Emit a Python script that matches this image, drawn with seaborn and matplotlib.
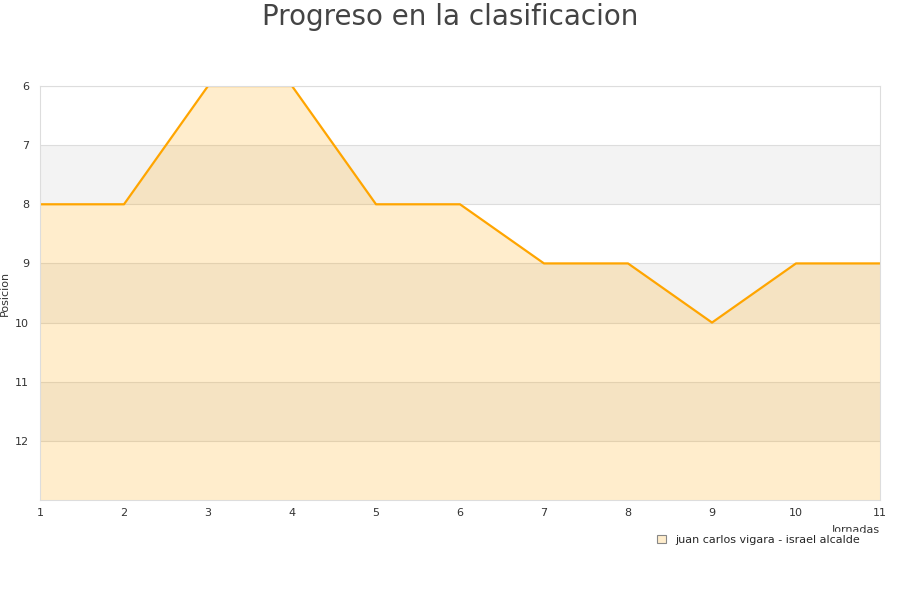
import matplotlib
matplotlib.use("Agg")
import matplotlib.pyplot as plt
import seaborn as sns
import pandas as pd
from matplotlib.patches import Patch

jornadas = [1, 2, 3, 4, 5, 6, 7, 8, 9, 10, 11]
posicion = [8, 8, 6, 6, 8, 8, 9, 9, 10, 9, 9]
serie = "juan carlos vigara - israel alcalde"
y_ticks = [6, 7, 8, 9, 10, 11, 12]

sns.set_theme(style="white")
plt.rcParams['font.family'] = ['DejaVu Sans']

df = pd.DataFrame({"Jornadas": jornadas, "Posicion": posicion})

fig = plt.figure(figsize=(9, 6), dpi=100)
ax = fig.add_axes([40/900, 100/600, 840/900, 414/600])

for lo in (7, 9, 11):
    ax.axhspan(lo, lo + 1, color="#f3f3f3", zorder=0, lw=0)
for t in y_ticks:
    ax.axhline(t, color="#dddddd", lw=0.8, zorder=0.5)

ax.fill_between(df["Jornadas"], df["Posicion"], 13, color="#FFA500", alpha=0.2, lw=0, zorder=1)
sns.lineplot(data=df, x="Jornadas", y="Posicion", ax=ax, color="#FFA500", lw=1.6, zorder=2)

ax.set_xlim(1, 11)
ax.set_ylim(13, 6)
ax.set_xticks(jornadas)
ax.set_yticks(y_ticks)
ax.tick_params(axis="both", labelsize=8, labelcolor="#333333", length=0)
ax.tick_params(axis="y", pad=8)
ax.tick_params(axis="x", pad=6)
for s in ax.spines.values():
    s.set_color("#dddddd")
    s.set_linewidth(0.8)

ax.set_ylabel("Posicion", fontsize=8, color="#333333")
ax.yaxis.set_label_coords(-30/840, 0.5)
ax.set_xlabel("Jornadas", fontsize=8, color="#333333")
ax.xaxis.set_label_coords(1.0, -0.06)
ax.xaxis.label.set_horizontalalignment("right")

fig.suptitle("Progreso en la clasificacion", fontsize=20, color="#444444", y=0.995)

handle = Patch(facecolor="#ffedcc", edgecolor="#888888", lw=0.8)
leg = fig.legend([handle], [serie], loc="center right", bbox_to_anchor=(0.965, 0.10),
                 fontsize=8, frameon=True, handlelength=0.8, handleheight=0.8,
                 handletextpad=0.8, borderpad=0.3)
leg.get_frame().set_facecolor("white")
leg.get_frame().set_edgecolor("white")
leg.get_frame().set_alpha(1)
leg.set_zorder(10)

fig.savefig("out.png", dpi=100)
